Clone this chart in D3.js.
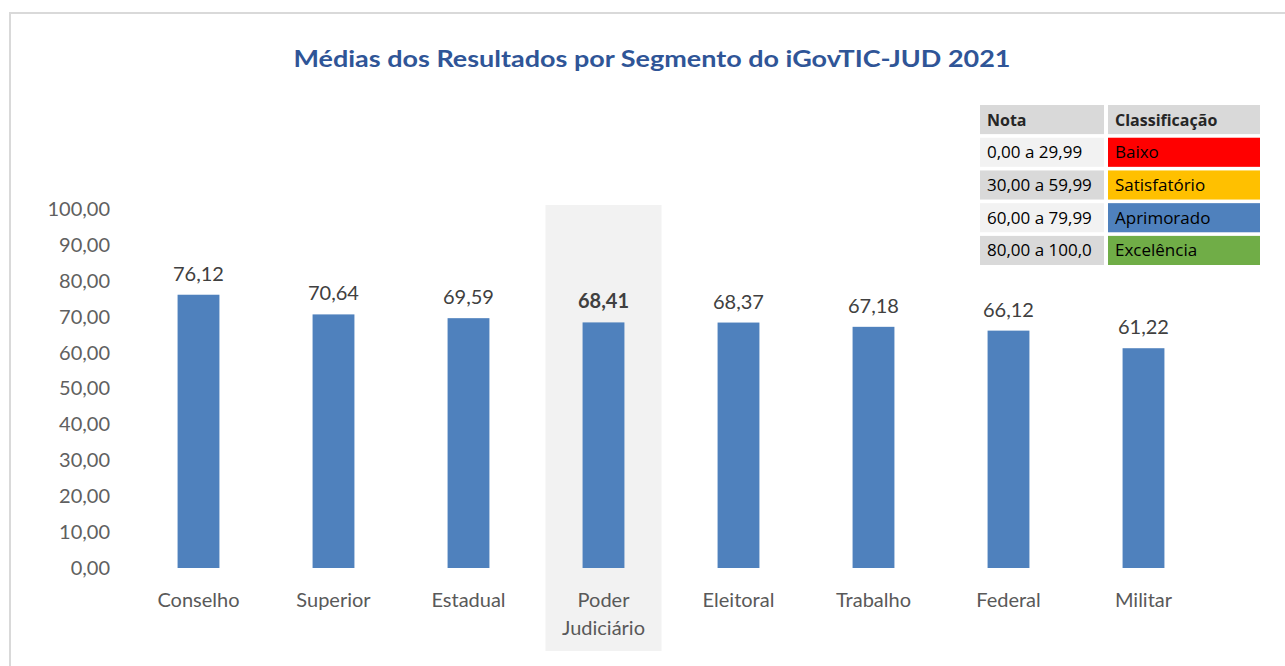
<!DOCTYPE html>
<html>
<head>
<meta charset="utf-8">
<script src="https://cdn.jsdelivr.net/npm/d3@7"></script>
<style>
  body { margin: 0; background: #fff; }
  svg { display: block; font-family: Lato, "Open Sans", sans-serif; }
</style>
</head>
<body>
<div class="chart"></div>
<script>
// data
var categories = ["Conselho", "Superior", "Estadual", "Poder Judiciário", "Eleitoral", "Trabalho", "Federal", "Militar"];
var values = [76.12, 70.64, 69.59, 68.41, 68.37, 67.18, 66.12, 61.22];
var highlight = "Poder Judiciário";
var yTicks = [0, 10, 20, 30, 40, 50, 60, 70, 80, 90, 100];

var legendHeader = ["Nota", "Classificação"];
var legendRanges = ["0,00 a 29,99", "30,00 a 59,99", "60,00 a 79,99", "80,00 a 100,0"];
var legendClasses = ["Baixo", "Satisfatório", "Aprimorado", "Excelência"];
var legendColors = ["#ff0000", "#ffc000", "#4f81bd", "#70ad47"];

var width = 1285, height = 666;
var fmt = function(v) { return d3.format(".2f")(v).replace(".", ","); };

var svg = d3.select(".chart")
            .append("svg")
            .attr("width", width)
            .attr("height", height);

// outer frame (only top and left edges are visible)
svg.append("path")
   .attr("d", "M10,680 L10,13 L1290,13")
   .attr("fill", "none")
   .attr("stroke", "#d9d9d9")
   .attr("stroke-width", 2);

// scales
var x = d3.scaleBand()
          .domain(categories)
          .range([131, 1211])
          .paddingInner(0.69)
          .paddingOuter(0.345);

var y = d3.scaleLinear()
          .domain([0, 100])
          .range([568, 209]);

// highlighted category background
svg.append("rect")
   .attr("x", x(highlight) + x.bandwidth() / 2 - 58)
   .attr("y", 205)
   .attr("width", 116)
   .attr("height", 446)
   .attr("fill", "#f2f2f2");

// title
svg.append("text")
   .attr("x", 652)
   .attr("y", 67)
   .attr("text-anchor", "middle")
   .attr("fill", "#2f5597")
   .attr("font-weight", "bold")
   .attr("font-size", 23)
   .attr("textLength", 717)
   .attr("lengthAdjust", "spacingAndGlyphs")
   .text("Médias dos Resultados por Segmento do iGovTIC-JUD 2021");

// y axis (labels only)
var yAxis = d3.axisLeft(y)
              .tickValues(yTicks)
              .tickFormat(fmt)
              .tickSize(0)
              .tickPadding(0);

var yg = svg.append("g")
   .attr("transform", "translate(110,0)")
   .call(yAxis);
yg.select(".domain").remove();
yg.selectAll("text")
  .attr("fill", "#606060")
  .attr("font-size", 20)
  .attr("font-family", "Lato, sans-serif");

// bars
svg.selectAll(".bar")
   .data(values)
   .enter()
   .append("rect")
   .attr("class", "bar")
   .attr("x", function(d, i) { return x(categories[i]); })
   .attr("y", function(d) { return y(d); })
   .attr("width", x.bandwidth())
   .attr("height", function(d) { return y(0) - y(d); })
   .attr("fill", "#4f81bd");

// value labels
svg.selectAll(".value")
   .data(values)
   .enter()
   .append("text")
   .attr("class", "value")
   .attr("x", function(d, i) { return x(categories[i]) + x.bandwidth() / 2; })
   .attr("y", function(d) { return y(d) - 14; })
   .attr("text-anchor", "middle")
   .attr("fill", "#404040")
   .attr("font-size", 20)
   .attr("font-weight", function(d, i) { return categories[i] === highlight ? "bold" : "normal"; })
   .text(fmt);

// category labels (Poder Judiciário wraps onto two lines)
var xLabels = svg.selectAll(".cat")
   .data(categories)
   .enter()
   .append("text")
   .attr("class", "cat")
   .attr("x", function(d) { return x(d) + x.bandwidth() / 2; })
   .attr("y", 607)
   .attr("text-anchor", "middle")
   .attr("fill", "#595959")
   .attr("font-size", 20);

xLabels.each(function(d) {
  var words = d === highlight ? d.split(" ") : [d];
  var t = d3.select(this);
  words.forEach(function(w, k) {
    t.append("tspan")
     .attr("x", x(d) + x.bandwidth() / 2)
     .attr("dy", k === 0 ? 0 : 28)
     .text(w);
  });
});

// classification table
var colX = [980, 1108];
var colW = [124, 152];
var rowY = d3.scaleBand()
             .domain(d3.range(5))
             .range([105, 265])
             .paddingInner(0.11);

var rows = [legendHeader].concat(legendRanges.map(function(r, i) { return [r, legendClasses[i]]; }));

var table = svg.append("g").attr("font-family", "'Open Sans', 'DejaVu Sans', sans-serif");

rows.forEach(function(row, r) {
  row.forEach(function(cell, c) {
    var fill;
    if (r === 0) fill = "#d9d9d9";
    else if (c === 0) fill = r % 2 === 1 ? "#f2f2f2" : "#d9d9d9";
    else fill = legendColors[r - 1];

    table.append("rect")
         .attr("x", colX[c])
         .attr("y", rowY(r))
         .attr("width", colW[c])
         .attr("height", rowY.bandwidth())
         .attr("fill", fill);

    table.append("text")
         .attr("x", colX[c] + 7)
         .attr("y", rowY(r) + rowY.bandwidth() / 2 + 6)
         .attr("font-size", r === 0 ? 16 : 17)
         .attr("font-weight", r === 0 ? "bold" : "normal")
         .attr("fill", r === 0 ? "#262626" : "#000")
         .text(cell);
  });
});
</script>
</body>
</html>
